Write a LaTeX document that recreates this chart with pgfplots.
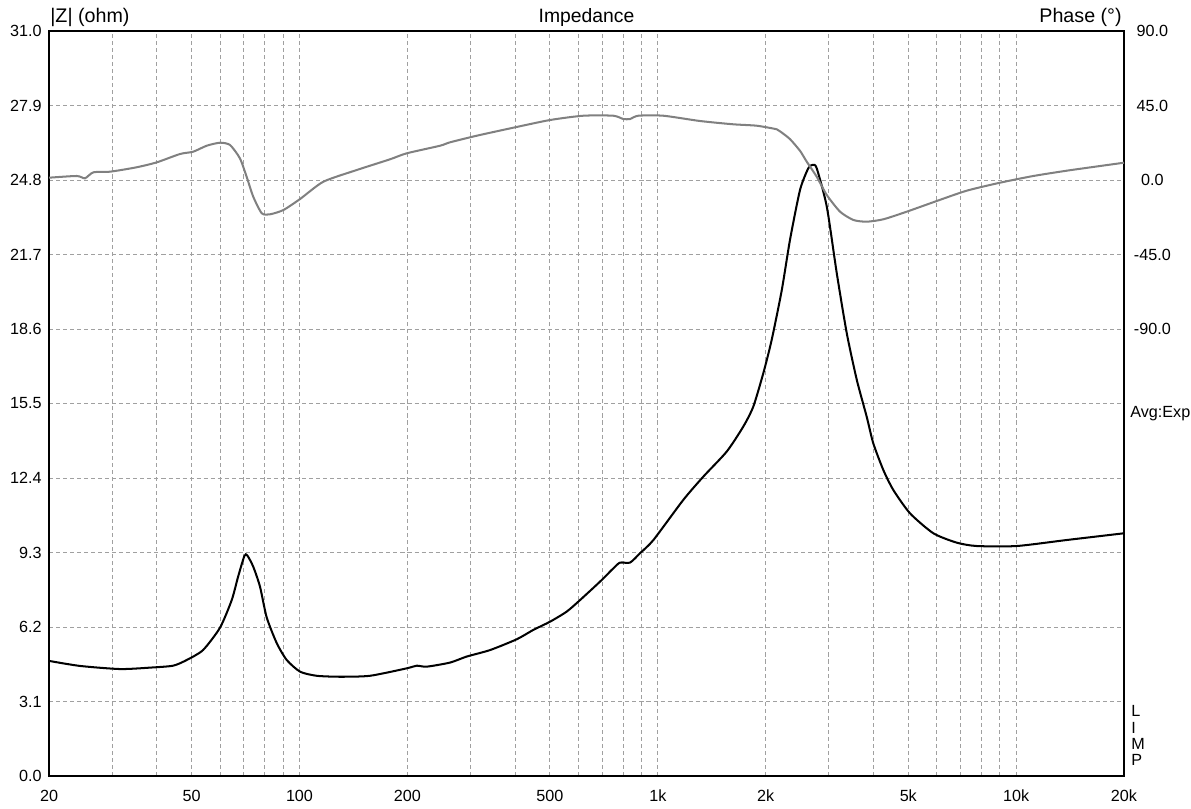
\documentclass[border=0pt]{standalone}
\usepackage{fontspec}
\setmainfont{Liberation Sans}
\usepackage{pgfplots}
\usepackage{pgfplotstable}
\pgfplotsset{compat=1.18}
\definecolor{gridgray}{RGB}{160,160,160}
\definecolor{phasegray}{RGB}{128,128,128}

% |Z| in ohm against frequency in Hz
\pgfplotstableread{
f z
20 4.79
24.4 4.58
31.6 4.45
38.3 4.51
44.4 4.59
48.5 4.83
53.8 5.24
60.0 6.17
64.7 7.32
67.4 8.29
70.2 9.16
71.5 9.18
74.3 8.71
77.6 7.88
81.0 6.60
86.4 5.53
92.1 4.83
100.4 4.34
111.7 4.17
129.8 4.13
157.3 4.17
199.2 4.48
212.4 4.59
226.6 4.55
263.2 4.72
292.8 4.97
340.2 5.24
404 5.69
449.4 6.08
500.2 6.42
556.8 6.84
606.6 7.32
690 8.09
751.4 8.64
784.6 8.88
836.4 8.88
892 9.27
972 9.82
1178 11.49
1340 12.46
1557 13.50
1732 14.54
1847 15.37
1970 16.76
2078 18.14
2218 20.22
2338 22.31
2494 24.39
2630 25.29
2706 25.43
2776 25.29
2962 23.69
3158 20.92
3368 18.42
3592 16.48
3828 14.95
3994 13.84
4260 12.73
4542 11.90
5056 10.93
5874 10.10
6826 9.71
7762 9.57
10040 9.57
13840 9.82
20000 10.10
}\impdata

% phase in degrees
\pgfplotstableread{
f p
20 1.39
23.9 2.42
25.2 1.03
26.6 4.65
29.6 5.01
35.1 7.67
40.0 10.69
46.4 15.70
50.5 17.09
55.1 20.71
60.0 22.52
64.0 21.14
68.2 13.10
71.2 1.99
74.3 -10.08
78.5 -20.11
82.8 -20.71
90.2 -18.12
100.4 -11.47
116.6 -1.03
144.5 6.04
178.9 12.50
199.2 16.12
246.8 20.71
263.2 22.77
312.4 26.75
395 31.58
500.2 36.23
619.6 38.83
751.4 38.83
801 36.84
836.4 36.84
882.4 38.83
1036 38.83
1312 35.63
1625 33.64
1888 32.79
2148 30.62
2200 29.2
2338 24.7
2494 17.6
2604 11.05
2776 1.99
2962 -9.06
3226 -19.14
3514 -24.15
3828 -25.18
4260 -23.73
4950 -19.14
6004 -12.68
7278 -6.46
9016 -1.63
11166 2.42
13840 5.62
17150 8.45
20000 10.45
}\phasedata

\begin{document}
\begin{tikzpicture}
\useasboundingbox (-0.98cm,-0.64cm) rectangle (22.84cm,15.52cm);
\begin{axis}[
  width=21.5cm, height=14.9cm, scale only axis,
  clip mode=individual,
  xmode=log, xmin=20, xmax=20000, ymin=0, ymax=31,
  log basis x=10,
  xtick={20,50,100,200,500,1000,2000,5000,10000,20000},
  xticklabels={20,50,100,200,500,1k,2k,5k,10k,20k},
  minor xtick={30,40,60,70,80,90,300,400,600,700,800,900,3000,4000,6000,7000,8000,9000},
  ytick={0,3.1,6.2,9.3,12.4,15.5,18.6,21.7,24.8,27.9,31},
  yticklabels={0.0,3.1,6.2,9.3,12.4,15.5,18.6,21.7,24.8,27.9,31.0},
  major tick length=0pt, minor tick length=0pt,
  grid=both,
  major grid style={gridgray, line width=0.55pt, dash pattern=on 2.3pt off 1.7pt},
  minor grid style={gridgray, line width=0.55pt, dash pattern=on 2.3pt off 1.7pt},
  axis line style={black, line width=0.6pt},
  tick label style={font=\fontsize{9.2}{10}\selectfont, inner sep=0pt},
  yticklabel style={anchor=east, xshift=-0.14cm},
  xticklabel style={anchor=north, yshift=-0.27cm},
]
\addplot[black, line width=1.15pt, smooth, tension=0.4] table[x=f, y=z] {\impdata};
\node[anchor=base west, inner sep=0pt, font=\fontsize{11.2}{12}\selectfont]
  at (rel axis cs:0,1) [xshift=0.02cm, yshift=0.16cm] {|Z| (ohm)};
\node[anchor=base, inner sep=0pt, font=\fontsize{11}{12}\selectfont]
  at (rel axis cs:0.5,1) [yshift=0.16cm] {Impedance};
\node[anchor=base east, inner sep=0pt, font=\fontsize{11.2}{12}\selectfont]
  at (rel axis cs:1,1) [xshift=-0.04cm, yshift=0.16cm] {Phase (°)};
\node[anchor=west, inner sep=0pt, font=\fontsize{9.2}{10}\selectfont]
  at (rel axis cs:1,0.487) [xshift=0.12cm] {Avg:Exp};
\node[anchor=west, inner sep=0pt, align=left, font=\fontsize{9.2}{9.35}\selectfont]
  at (rel axis cs:1,0.054) [xshift=0.14cm] {L\\I\\M\\P};
\end{axis}
\begin{axis}[
  width=21.5cm, height=14.9cm, scale only axis,
  xmode=log, xmin=20, xmax=20000, ymin=-360, ymax=90,
  axis x line=none, axis y line*=right,
  axis line style={black, line width=0.6pt},
  ytick={-90,-45,0,45,90},
  yticklabels={-90.0,-45.0,0.0,45.0,90.0},
  major tick length=0pt,
  tick label style={font=\fontsize{9.2}{10}\selectfont, inner sep=0pt},
  yticklabel style={anchor=west, xshift=0.16cm, text width=0.8cm, align=center},
]
\addplot[phasegray, line width=1.15pt, smooth, tension=0.4] table[x=f, y=p] {\phasedata};
\end{axis}
\end{tikzpicture}
\end{document}
